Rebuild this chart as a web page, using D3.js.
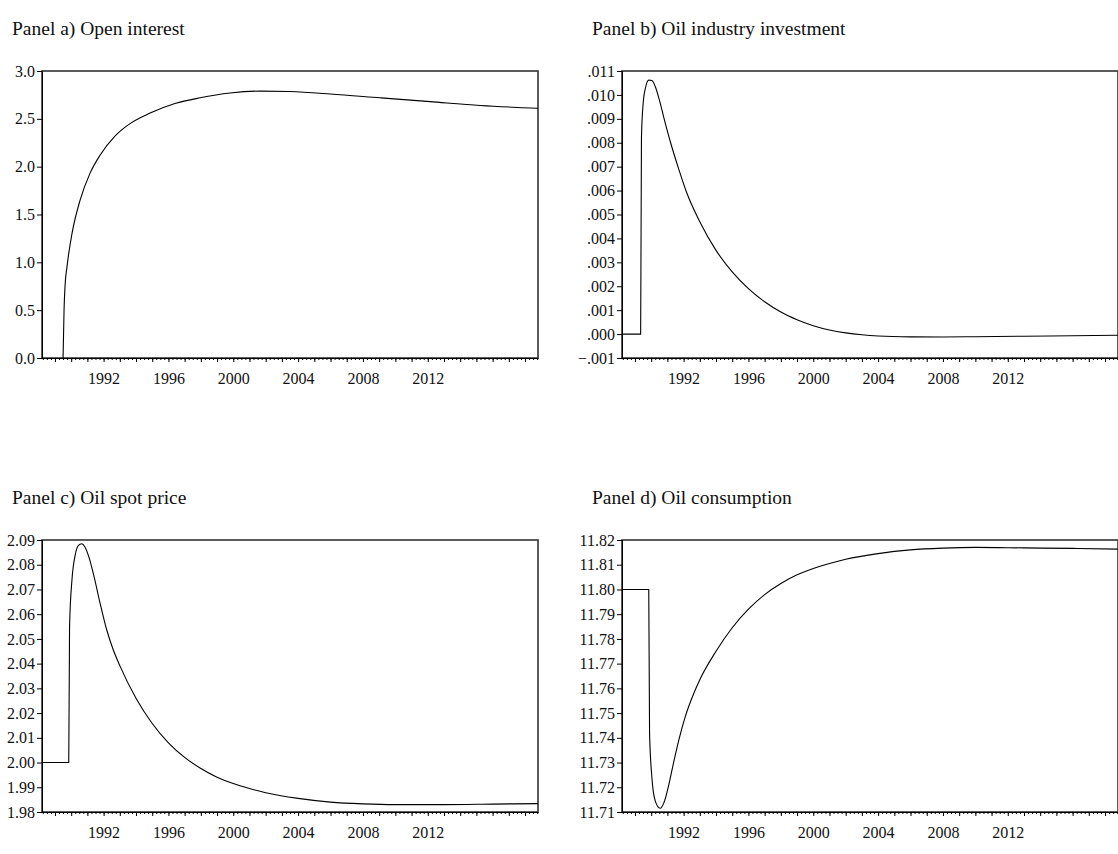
<!DOCTYPE html>
<html lang="en">
<head>
<meta charset="utf-8">
<title>Panels</title>
<style>
body { margin: 0; background: #fff; }
svg { display: block; font-family: "Liberation Serif", "Times New Roman", serif; }
.title { font-size: 19.5px; fill: #111; }
.tick text { font-family: "Liberation Serif", "Times New Roman", serif; font-size: 16px; fill: #111; }
</style>
</head>
<body>
<div id="chart"></div>
<script src="https://d3js.org/d3.v7.min.js"></script>
<script>
// values (x = year as decimal)
const openYears   = [1989.5, 1989.56, 1989.62, 1989.74, 1990.05, 1990.55, 1991.16, 1991.78, 1992.7, 1993.63, 1994.87, 1996.4, 1997.95, 1999.8, 2001.66, 2003.5, 2006, 2009.06, 2012.15, 2015.24, 2018.8];
const openValues  = [0, 0.5, 0.75, 0.95, 1.3, 1.65, 1.93, 2.12, 2.32, 2.45, 2.56, 2.66, 2.72, 2.77, 2.79, 2.785, 2.76, 2.72, 2.68, 2.64, 2.61];

const investYears  = [1988.2, 1989.35, 1989.4, 1989.5, 1989.65, 1989.85, 1990.05, 1990.25, 1990.5, 1990.8, 1991.2, 1991.7, 1992.2, 1993, 1994, 1995, 1996, 1997, 1998, 1999, 2000, 2001, 2002, 2003, 2004, 2006, 2008, 2010, 2013, 2016, 2018.8];
const investValues = [0, 0, 0.0082, 0.0096, 0.0103, 0.01062, 0.0106, 0.01035, 0.0098, 0.0090, 0.0080, 0.0069, 0.0059, 0.0047, 0.0035, 0.0026, 0.0019, 0.00135, 0.00092, 0.0006, 0.00035, 0.00017, 0.00005, -0.00003, -0.00008, -0.000115, -0.00012, -0.00011, -0.00009, -0.00007, -0.00005];

const priceYears  = [1988.2, 1989.85, 1989.9, 1990.05, 1990.25, 1990.45, 1990.65, 1990.85, 1991.1, 1991.4, 1991.8, 1992.2, 1992.6, 1993, 1994, 1995, 1996, 1997, 1998, 1999, 2000, 2001, 2002, 2004, 2006, 2008, 2010, 2013, 2016, 2018.8];
const priceValues = [2.000, 2.000, 2.055, 2.074, 2.084, 2.0878, 2.0885, 2.0872, 2.0830, 2.0755, 2.0640, 2.0535, 2.0455, 2.0392, 2.0260, 2.0158, 2.0080, 2.0021, 1.9976, 1.9941, 1.9915, 1.9895, 1.9878, 1.9855, 1.9840, 1.9833, 1.9830, 1.9830, 1.9832, 1.9834];

const consYears  = [1988.2, 1989.85, 1989.9, 1990.05, 1990.25, 1990.55, 1990.8, 1991.05, 1991.35, 1991.7, 1992.1, 1992.6, 1993, 1994, 1995, 1996, 1997, 1998, 1999, 2000, 2001, 2002, 2004, 2006, 2008, 2010, 2013, 2016, 2018.8];
const consValues = [11.800, 11.800, 11.742, 11.7235, 11.7145, 11.7115, 11.714, 11.720, 11.729, 11.739, 11.7485, 11.7575, 11.7635, 11.775, 11.7845, 11.792, 11.7979, 11.8024, 11.8059, 11.8085, 11.8105, 11.8122, 11.8145, 11.816, 11.8167, 11.817, 11.8168, 11.8166, 11.8163];

const yearLabels = [1992, 1996, 2000, 2004, 2008, 2012];
const xDomain = [1988.2, 2018.8];

const width = 1118, height = 854;
const plotW = 496;

const dotFmt = v => d3.format(".3f")(v).replace("0.", ".");

const panels = [
  {title: "Panel a) Open interest", years: openYears, values: openValues,
   left: 42, top: 71, bottom: 358, yDomain: [0, 3], yTicks: d3.range(0, 3.01, 0.5), fmt: d3.format(".1f")},
  {title: "Panel b) Oil industry investment", years: investYears, values: investValues,
   left: 622, top: 71, bottom: 358, yDomain: [-0.001, 0.011], yTicks: d3.range(-0.001, 0.01101, 0.001), fmt: dotFmt},
  {title: "Panel c) Oil spot price", years: priceYears, values: priceValues,
   left: 42, top: 540, bottom: 812, yDomain: [1.98, 2.09], yTicks: d3.range(1.98, 2.0901, 0.01), fmt: d3.format(".2f")},
  {title: "Panel d) Oil consumption", years: consYears, values: consValues,
   left: 622, top: 540, bottom: 812, yDomain: [11.71, 11.82], yTicks: d3.range(11.71, 11.8201, 0.01), fmt: d3.format(".2f")}
];

const svg = d3.select("#chart").append("svg")
    .attr("width", width)
    .attr("height", height)
    .attr("viewBox", [0, 0, width, height]);

panels.forEach(p => {
  const x = d3.scaleLinear().domain(xDomain).range([p.left, p.left + plotW]);
  const y = d3.scaleLinear().domain(p.yDomain).range([p.bottom, p.top]);
  const g = svg.append("g");

  g.append("text")
      .attr("class", "title")
      .attr("x", p.left - 30)
      .attr("y", p.top - 36)
      .text(p.title);

  // frame
  g.append("rect")
      .attr("x", p.left)
      .attr("y", p.top)
      .attr("width", plotW)
      .attr("height", p.bottom - p.top)
      .attr("fill", "none")
      .attr("stroke", "#333")
      .attr("stroke-width", 1.6);

  // y axis
  g.append("g")
      .attr("transform", `translate(${p.left},0)`)
      .call(d3.axisLeft(y).tickValues(p.yTicks).tickFormat(p.fmt).tickSize(5).tickPadding(2))
      .call(a => a.select(".domain").attr("stroke", "#000"));

  // x axis: quarters, years, labels
  const xa = g.append("g").attr("transform", `translate(0,${p.bottom})`);
  xa.append("g")
      .call(d3.axisBottom(x).tickValues(d3.range(1988.25, 2018.8, 0.25)).tickSize(2).tickFormat(""))
      .call(a => a.select(".domain").remove());
  xa.append("g")
      .call(d3.axisBottom(x).tickValues(d3.range(1989, 2019, 1)).tickSize(4).tickFormat(""))
      .call(a => a.select(".domain").remove());
  xa.append("g")
      .call(d3.axisBottom(x).tickValues(yearLabels).tickSize(0).tickPadding(15).tickFormat(d3.format("d")))
      .call(a => a.select(".domain").attr("stroke", "#000"));

  const line = d3.line()
      .x((d, i) => x(p.years[i]))
      .y(d => y(d))
      .curve(d3.curveMonotoneX);

  g.append("path")
      .datum(p.values)
      .attr("fill", "none")
      .attr("stroke", "#000")
      .attr("stroke-width", 1.1)
      .attr("d", line);
});
</script>
</body>
</html>
